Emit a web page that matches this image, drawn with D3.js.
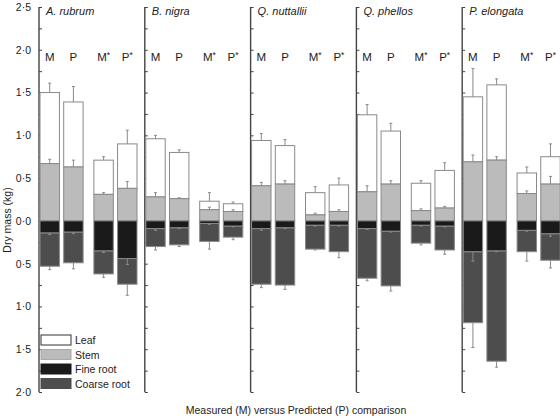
<!DOCTYPE html>
<html><head><meta charset="utf-8">
<script src="https://cdn.jsdelivr.net/npm/d3@7"></script>
<style>body{margin:0;background:#fff}svg{display:block;font-family:"Liberation Sans",Arial,sans-serif}</style>
</head><body><svg id="c" width="560" height="420"></svg>
<script>
const species = ["A. rubrum","B. nigra","Q. nuttallii","Q. phellos","P. elongata"];
const groups = ["M","P","M*","P*"];
// masses (kg) per species, in order of groups
const stem     = [[0.67,0.63,0.31,0.38],[0.28,0.26,0.13,0.11],[0.41,0.43,0.07,0.11],[0.34,0.43,0.12,0.15],[0.69,0.71,0.32,0.43]];
const stemSE   = [[0.05,0.08,0.02,0.08],[0.05,0.01,0.03,0.02],[0.04,0.04,0.02,0.02],[0.07,0.04,0.02,0.02],[0.08,0.04,0.03,0.09]];
const leaf     = [[0.83,0.76,0.40,0.52],[0.68,0.54,0.10,0.09],[0.53,0.45,0.26,0.31],[0.90,0.62,0.32,0.44],[0.76,0.88,0.24,0.32]];
const leafSE   = [[0.11,0.18,0.04,0.16],[0.04,0.03,0.10,0.02],[0.08,0.07,0.07,0.08],[0.12,0.09,0.03,0.09],[0.33,0.07,0.07,0.15]];
const fineRoot = [[0.14,0.13,0.35,0.44],[0.09,0.08,0.03,0.06],[0.09,0.08,0.05,0.05],[0.09,0.12,0.05,0.06],[0.36,0.35,0.11,0.15]];
const fineSE   = [[0.02,0.02,0.02,0.07],[0.02,0.01,0.01,0.01],[0.02,0.01,0.01,0.01],[0.01,0.01,0.01,0.01],[0.11,0.01,0.01,0.03]];
const coarseRoot=[[0.39,0.36,0.27,0.30],[0.21,0.20,0.21,0.13],[0.65,0.67,0.28,0.31],[0.58,0.64,0.21,0.28],[0.83,1.29,0.25,0.31]];
const coarseSE = [[0.04,0.07,0.04,0.13],[0.04,0.02,0.09,0.03],[0.04,0.05,0.01,0.07],[0.03,0.06,0.02,0.05],[0.29,0.07,0.11,0.09]];
const yTicks = [-2,-1.5,-1,-0.5,0,0.5,1,1.5,2,2.5];
const yMinor = [-1.75,-1.25,-0.75,-0.25,0.25,0.75,1.25,1.75,2.25];
const legendItems = ["Leaf","Stem","Fine root","Coarse root"];
const colors = {"Leaf":"#ffffff","Stem":"#bbbbbb","Fine root":"#1a1a1a","Coarse root":"#4d4d4d"};

const svg = d3.select("#c");
const y = d3.scaleLinear().domain([-2,2.5]).range([392,7]);
const xPanel = d3.scaleBand().domain(species).range([39,568]);
const xPair = d3.scaleBand().domain(["MP","MPs"]).range([1,98]).paddingInner(0.2);
const xIn = d3.scaleBand().domain([0,1]).range([0,xPair.bandwidth()]).paddingInner(0.18);
const barX = (si,gi) => xPanel(species[si]) + xPair(gi<2?"MP":"MPs") + xIn(gi%2);
const bw = xIn.bandwidth();
const fmt = v => d3.format(".1f")(Math.abs(v)).replace(".","·");

// axes
species.forEach((sp,si)=>{
  const L = xPanel(sp);
  const g = svg.append("g").attr("transform",`translate(${L},0)`);
  const ax = d3.axisRight(y).tickValues(yTicks.concat(yMinor)).tickSize(3).tickFormat("");
  g.call(ax);
  g.select(".domain").attr("stroke","#444").attr("stroke-width",1.4).attr("d",`M0,${y(2.5)}V${y(-2)}`);
  g.selectAll(".tick line").attr("stroke","#444");
  if(si===0){
    const gl = svg.append("g").attr("transform",`translate(${L},0)`)
      .call(d3.axisLeft(y).tickValues(yTicks).tickSize(0).tickPadding(8).tickFormat(fmt));
    gl.select(".domain").remove();
    gl.selectAll("text").attr("font-size",10.5).attr("fill","#222").attr("font-family","Liberation Sans, Arial, sans-serif");
  }
  svg.append("text").attr("x",L+7).attr("y",15).attr("font-size",11).attr("font-style","italic").attr("fill","#222").text(sp);
  groups.forEach((gname,gi)=>{
    const t = svg.append("text").attr("x",barX(si,gi)+bw/2).attr("y",61).attr("text-anchor","middle")
      .attr("font-size",11.5).attr("fill","#222");
    t.append("tspan").text(gname.replace("*",""));
    if(gname.includes("*")) t.append("tspan").attr("font-size",8.5).attr("dy",-3).text("*");
  });
});

// bars
const errs = [];
species.forEach((sp,si)=>{
  groups.forEach((gname,gi)=>{
    const x0 = barX(si,gi);
    const s = stem[si][gi], l = leaf[si][gi], f = fineRoot[si][gi], c = coarseRoot[si][gi];
    const segs = [
      {k:"Leaf",a:s,b:s+l,se:leafSE[si][gi],dir:1},
      {k:"Stem",a:0,b:s,se:stemSE[si][gi],dir:1},
      {k:"Coarse root",a:-f,b:-(f+c),se:coarseSE[si][gi],dir:-1},
      {k:"Fine root",a:0,b:-f,se:fineSE[si][gi],dir:-1}
    ];
    segs.forEach(d=>{
      svg.append("rect").attr("x",x0).attr("width",bw)
        .attr("y",y(Math.max(d.a,d.b))).attr("height",Math.abs(y(d.a)-y(d.b)))
        .attr("fill",colors[d.k]).attr("stroke","#8a8a8a").attr("stroke-width",1);
      errs.push({x:x0+bw/2,v:d.b,e:d.b+d.dir*d.se});
    });
  });
});
errs.forEach(d=>{
  svg.append("line").attr("x1",d.x).attr("x2",d.x).attr("y1",y(d.v)).attr("y2",y(d.e)).attr("stroke","#8a8a8a").attr("stroke-width",1);
  svg.append("line").attr("x1",d.x-1.5).attr("x2",d.x+1.5).attr("y1",y(d.e)).attr("y2",y(d.e)).attr("stroke","#8a8a8a").attr("stroke-width",1);
});

// legend
const lg = svg.append("g").attr("transform","translate(41,335)");
legendItems.forEach((k,i)=>{
  const yy = i*14.5;
  lg.append("rect").attr("x",0).attr("y",yy).attr("width",30).attr("height",10)
    .attr("fill",colors[k]).attr("stroke", k==="Leaf"?"#333":(k==="Stem"?"#aaa":colors[k])).attr("stroke-width",1);
  lg.append("text").attr("x",34).attr("y",yy+9).attr("font-size",10.5).attr("fill","#222").text(k);
});

// axis titles
svg.append("text").attr("x",296).attr("y",414).attr("text-anchor","middle").attr("font-size",10.5).attr("fill","#222")
  .text("Measured (M) versus Predicted (P) comparison");
svg.append("text").attr("transform","translate(11,220) rotate(-90)").attr("text-anchor","middle").attr("font-size",10.5).attr("fill","#222")
  .text("Dry mass (kg)");
</script></body></html>
